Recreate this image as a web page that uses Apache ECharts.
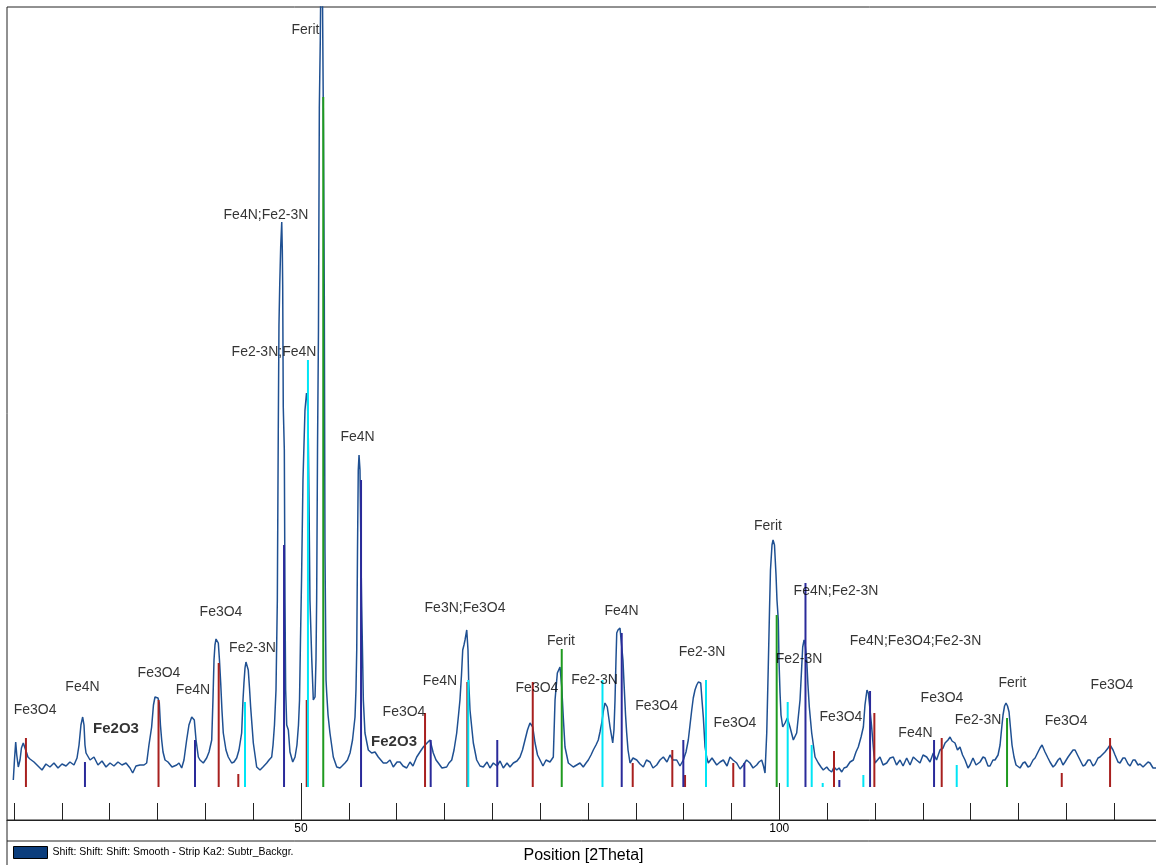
<!DOCTYPE html>
<html>
<head>
<meta charset="utf-8">
<script src="https://cdn.jsdelivr.net/npm/echarts@6/dist/echarts.min.js"></script>
<style>
html,body{margin:0;padding:0;background:#fff;}
#chart{width:1156px;height:865px;}
</style>
</head>
<body>
<div id="chart"></div>
<script>
// Measured pattern: [2Theta (deg), intensity (counts, background subtracted)]
const pattern = [
[19.93,7],[20.05,27],[20.18,45],[20.29,32],[20.45,20],[20.63,27],[20.78,39],[20.97,44],[21.15,45],[21.33,34],[21.46,30],[21.67,28],
[22.09,25],[22.51,21],[22.93,17],[23.34,23],[23.76,20],[24.18,24],[24.60,19],[25.02,23],[25.44,21],[25.85,25],[26.27,22],[26.59,29],
[26.80,42],[27.00,62],[27.18,70],[27.32,62],[27.42,42],[27.53,34],[27.95,27],[28.36,30],[28.78,22],[29.20,26],[29.62,20],[30.04,24],
[30.45,21],[30.87,25],[31.29,22],[31.71,24],[32.13,19],[32.41,14],[32.75,21],[33.17,22],[33.59,22],[33.87,24],[34.11,42],[34.39,60],
[34.58,82],[34.74,90],[34.92,92],[35.05,89],[35.19,84],[35.31,62],[35.44,47],[35.58,35],[35.79,27],[36.10,25],[36.52,20],[37.01,22],
[37.25,24],[37.53,19],[37.77,27],[38.05,47],[38.29,62],[38.58,70],[38.85,67],[39.03,47],[39.27,30],[39.44,27],[39.79,24],[40.14,29],
[40.39,35],[40.67,47],[40.80,87],[40.91,127],[41.01,142],[41.12,148],[41.25,146],[41.36,144],[41.48,127],[41.61,104],[41.74,77],[41.88,54],
[42.16,37],[42.40,30],[42.76,24],[43.00,25],[43.28,29],[43.52,37],[43.80,54],[43.94,87],[44.04,104],[44.15,119],[44.25,125],[44.36,123],
[44.49,117],[44.62,99],[44.74,80],[44.88,62],[45.02,44],[45.37,20],[45.72,17],[46.03,20],[46.42,24],[46.66,27],[46.94,30],[47.08,42],
[47.23,62],[47.39,97],[47.53,187],[47.63,360],[47.70,462],[47.78,502],[47.88,540],[47.99,565],[48.05,537],[48.09,502],[48.15,380],[48.26,337],
[48.33,187],[48.40,97],[48.51,62],[48.68,57],[48.85,35],[49.14,25],[49.38,30],[49.58,42],[49.74,62],[49.85,87],[49.95,147],[50.06,207],
[50.21,307],[50.42,377],[50.58,394],[50.68,387],[50.77,347],[50.86,267],[50.94,187],[51.12,130],[51.29,87],[51.47,90],[51.57,127],[51.64,187],
[51.73,337],[51.83,457],[51.92,679],[52.02,747],[52.17,907],[52.27,763],[52.35,657],[52.44,487],[52.51,237],[52.62,107],[52.69,94],[52.83,72],
[53.03,54],[53.38,30],[53.74,20],[54.08,19],[54.29,21],[54.60,24],[54.86,27],[55.13,34],[55.39,47],[55.65,70],[55.75,97],[55.83,137],
[55.91,237],[55.99,317],[56.07,332],[56.17,317],[56.28,227],[56.35,180],[56.43,137],[56.52,87],[56.69,54],[57.04,37],[57.39,34],[57.74,35],
[58.08,30],[58.61,24],[58.96,24],[59.31,27],[59.65,20],[60.04,25],[60.35,25],[60.67,21],[61.05,19],[61.40,25],[61.71,21],[62.10,30],
[62.44,35],[62.79,40],[63.18,44],[63.49,47],[63.67,45],[63.83,34],[64.12,27],[64.36,24],[64.74,19],[65.23,20],[65.47,24],[65.76,27],
[66.00,37],[66.28,54],[66.47,72],[66.62,87],[66.78,112],[66.91,137],[67.04,142],[67.15,147],[67.33,157],[67.39,159],[67.46,137],[67.53,107],
[67.67,77],[67.88,57],[68.02,44],[68.37,27],[68.72,21],[69.06,20],[69.45,25],[69.76,19],[70.11,24],[70.49,21],[70.81,26],[71.15,19],
[71.54,24],[71.85,20],[72.20,24],[72.58,26],[72.90,30],[73.16,37],[73.42,47],[73.68,57],[73.94,64],[74.23,60],[74.47,44],[74.73,32],
[74.99,27],[75.30,21],[75.62,27],[76.03,25],[76.38,30],[76.56,87],[76.80,114],[77.08,120],[77.26,100],[77.42,70],[77.60,40],[77.95,24],
[78.47,20],[78.82,22],[79.17,24],[79.51,20],[79.80,24],[80.04,27],[80.32,32],[80.56,37],[80.84,42],[81.08,47],[81.26,55],[81.44,64],
[81.63,77],[81.78,84],[82.02,80],[82.31,60],[82.59,44],[82.72,57],[82.83,87],[82.93,127],[83.01,154],[83.14,157],[83.35,159],[83.53,157],
[83.66,127],[83.77,104],[83.93,72],[84.05,54],[84.19,37],[84.40,24],[84.71,29],[85.10,27],[85.44,23],[85.79,20],[86.12,27],[86.49,25],
[86.80,19],[87.19,22],[87.53,27],[87.88,30],[88.26,25],[88.58,32],[88.89,27],[89.28,27],[89.62,21],[89.97,27],[90.25,35],[90.49,47],
[90.67,62],[90.85,77],[91.01,89],[91.19,97],[91.37,102],[91.54,105],[91.79,104],[91.92,87],[92.06,70],[92.24,40],[92.41,30],[92.58,24],
[92.97,29],[93.46,22],[93.81,25],[94.15,27],[94.54,21],[94.85,30],[95.16,27],[95.55,24],[95.90,18],[96.24,22],[96.58,27],[96.94,24],
[97.26,19],[97.64,22],[97.88,25],[98.16,27],[98.35,21],[98.51,14],[98.69,54],[98.85,120],[98.98,177],[99.08,217],[99.24,242],[99.35,247],
[99.50,242],[99.66,212],[99.76,187],[99.90,167],[99.97,127],[100.08,94],[100.18,72],[100.36,60],[100.60,64],[100.84,69],[101.12,60],[101.47,47],
[101.82,54],[102.01,72],[102.17,87],[102.33,117],[102.45,140],[102.59,147],[102.69,144],[102.87,127],[103.00,102],[103.14,80],[103.39,54],[103.74,30],
[104.08,24],[104.36,20],[104.60,17],[104.96,20],[105.20,17],[105.48,15],[105.72,20],[106.01,17],[106.25,19],[106.53,15],[106.77,19],[107.05,20],
[107.40,25],[107.74,27],[108.02,35],[108.26,40],[108.55,50],[108.79,60],[108.96,82],[109.07,90],[109.17,97],[109.31,94],[109.49,77],[109.64,62],
[109.77,47],[109.90,32],[110.01,24],[110.27,27],[110.53,30],[110.85,22],[111.23,24],[111.58,29],[111.92,30],[112.26,22],[112.62,27],[112.94,21],
[113.32,29],[113.67,22],[114.01,30],[114.35,27],[114.71,24],[115.03,32],[115.41,30],[115.76,25],[116.10,34],[116.44,27],[116.80,37],[117.12,39],
[117.33,44],[117.64,47],[117.85,50],[118.06,46],[118.37,44],[118.63,37],[118.89,40],[119.16,32],[119.42,27],[119.73,19],[119.94,22],[120.25,29],
[120.57,22],[120.99,25],[121.30,30],[121.51,29],[121.82,21],[122.03,21],[122.34,27],[122.55,27],[122.87,32],[123.08,42],[123.23,57],[123.39,72],
[123.55,81],[123.70,84],[123.86,81],[124.02,75],[124.17,59],[124.33,42],[124.54,30],[124.75,22],[125.17,19],[125.48,24],[125.69,25],[126.00,20],
[126.21,21],[126.53,27],[126.74,29],[127.05,35],[127.26,39],[127.47,42],[127.78,35],[128.09,29],[128.30,25],[128.62,20],[128.83,22],[129.14,27],
[129.35,29],[129.66,22],[129.87,25],[130.19,30],[130.39,32],[130.71,37],[130.92,37],[131.23,31],[131.44,27],[131.75,21],[131.96,22],[132.28,27],
[132.49,27],[132.80,21],[133.01,23],[133.32,29],[133.53,30],[133.84,33],[134.05,35],[134.37,39],[134.58,42],[134.89,37],[135.10,32],[135.41,25],
[135.62,24],[135.93,29],[136.14,29],[136.46,23],[136.67,21],[136.98,27],[137.19,27],[137.50,22],[137.71,23],[138.03,20],[138.23,19],[138.55,25],
[138.76,24],[139.07,19],[139.39,19]
];

// Reference patterns (stick positions in 2Theta, relative stick heights)
const fe3o4Pos = [21.25,35.11,41.40,43.45,50.60,62.97,67.39,74.23,84.68,88.82,90.15,95.19,105.72,109.94,116.98,129.53,134.58];
const fe3o4Int = [49,87,124,13,87,74,105,105,24,37,12,24,36,74,49,14,49];
const fe4nPos  = [27.42,38.92,48.23,56.28,63.56,70.52,83.53,89.97,96.35,102.74,106.28,109.49,116.18];
const fe4nInt  = [25,47,242,307,47,47,154,47,24,204,7,96,47];
const fe23nPos = [44.15,50.73,67.49,81.52,92.34,100.88,103.39,104.54,108.79,118.55];
const fe23nInt = [85,427,107,107,107,85,42,4,12,22];
const feritPos = [52.33,77.26,99.73,123.81];
const feritInt = [690,138,172,69];

// Peak annotations: text, 2Theta, height, bold
const labelText = ["Fe3O4","Fe4N","Fe2O3","Fe3O4","Fe4N","Fe3O4","Fe2-3N","Fe4N;Fe2-3N","Fe2-3N;Fe4N","Ferit","Fe4N",
  "Fe3O4","Fe2O3","Fe4N","Fe3N;Fe3O4","Fe3O4","Ferit","Fe2-3N","Fe4N","Fe3O4","Fe2-3N","Fe3O4","Ferit","Fe2-3N",
  "Fe4N;Fe2-3N","Fe4N;Fe3O4;Fe2-3N","Fe3O4","Fe4N","Fe3O4","Fe2-3N","Ferit","Fe3O4","Fe3O4"];
const labelX = [22.20,27.16,30.66,35.16,38.71,41.64,44.93,46.34,47.18,50.47,55.91,
  60.77,59.73,64.53,67.15,74.67,77.18,80.69,83.51,87.17,91.92,95.37,98.82,102.06,
  105.93,114.24,106.45,114.24,117.01,120.78,124.38,129.98,134.78];
const labelY = [77,100,58,114,97,175,139,572,435,757,350,
  75,45,106,179,99,146,107,176,81,135,64,261,128,
  196,146,70,54,89,67,104,66,102];
const labelBold = [0,0,1,0,0,0,0,0,0,0,0, 0,1,0,0,0,0,0,0,0,0,0,0,0, 0,0,0,0,0,0,0,0,0];

const minorTicks = [20,25,30,35,40,45,50,55,60,65,70,75,80,85,90,95,100,105,110,115,120,125,130,135];
const majorTicks = [50,100];

const X_MIN = 19.27, X_MAX = 139.80, Y_MIN = -33, Y_MAX = 780;
const seriesName = 'Shift: Shift: Shift: Smooth - Strip Ka2: Subtr_Backgr.';

function stickSeries(name, pos, ints, color) {
  return {
    type: 'custom', name: name, silent: true, z: 4, clip: true,
    data: pos.map((p, i) => [p, ints[i]]),
    renderItem: function (params, api) {
      const a = api.coord([api.value(0), 0]);
      const b = api.coord([api.value(0), api.value(1)]);
      return { type: 'line', shape: { x1: a[0], y1: a[1], x2: b[0], y2: b[1] },
               style: { stroke: color, lineWidth: 2 } };
    }
  };
}

const gridBox = { left: 7, top: 7, width: 1153, height: 813, outerBoundsMode: 'none', containLabel: false };

const chart = echarts.init(document.getElementById('chart'), null, { renderer: 'canvas' });
const fontFam = '"Liberation Sans", Arial, sans-serif';
chart.setOption({
  animation: false,
  backgroundColor: '#fff',
  textStyle: { fontFamily: fontFam },
  grid: [
    Object.assign({ show: true, borderColor: '#222', borderWidth: 1 }, gridBox),
    Object.assign({ show: false }, gridBox)
  ],
  legend: {
    left: 13, top: 846, padding: 0, itemWidth: 34, itemHeight: 12, itemGap: 10,
    textStyle: { fontSize: 10.5, color: '#000', fontFamily: fontFam },
    data: [{ name: seriesName, icon: 'rect', itemStyle: { color: '#0b3d7c', borderColor: '#000', borderWidth: 1 } }]
  },
  xAxis: [
    {
      gridIndex: 0, type: 'value', min: X_MIN, max: X_MAX, position: 'bottom',
      name: 'Position [2Theta]', nameLocation: 'middle', nameGap: 28,
      nameTextStyle: { fontSize: 16, color: '#000', fontFamily: fontFam },
      axisLine: { show: true, onZero: false, lineStyle: { color: '#222', width: 1 } },
      axisTick: { show: true, inside: true, length: 17, customValues: minorTicks, lineStyle: { color: '#222', width: 1 } },
      axisLabel: { show: true, customValues: majorTicks, margin: 3, fontSize: 12, color: '#000', fontFamily: fontFam },
      splitLine: { show: false }
    },
    {
      gridIndex: 1, type: 'value', min: X_MIN, max: X_MAX, position: 'bottom',
      axisLine: { show: false, onZero: false },
      axisTick: { show: true, inside: true, length: 37, customValues: majorTicks, lineStyle: { color: '#222', width: 1 } },
      axisLabel: { show: false },
      splitLine: { show: false }
    }
  ],
  yAxis: [
    { gridIndex: 0, type: 'value', min: Y_MIN, max: Y_MAX, show: false, splitLine: { show: false } },
    { gridIndex: 1, type: 'value', min: Y_MIN, max: Y_MAX, show: false, splitLine: { show: false } }
  ],
  graphic: [
    { type: 'line', shape: { x1: 7, y1: 820, x2: 7, y2: 865 }, style: { stroke: '#222', lineWidth: 1 } },
    { type: 'line', shape: { x1: 7, y1: 841, x2: 1156, y2: 841 }, style: { stroke: '#222', lineWidth: 1 } }
  ],
  series: [
    {
      name: seriesName, type: 'line', data: pattern, showSymbol: false, symbol: 'none',
      clip: true, z: 3,
      lineStyle: { color: '#1f5092', width: 1.5 },
      itemStyle: { color: '#0b3d7c' }
    },
    stickSeries('Fe3O4', fe3o4Pos, fe3o4Int, '#a8201f'),
    stickSeries('Fe4N', fe4nPos, fe4nInt, '#2a2a9a'),
    stickSeries('Fe2-3N', fe23nPos, fe23nInt, '#00e5f5'),
    stickSeries('Ferit', feritPos, feritInt, '#1f9a1f'),
    {
      name: 'labels', type: 'scatter', symbol: 'rect', symbolSize: 1, silent: true, z: 6,
      itemStyle: { color: 'rgba(0,0,0,0)' },
      label: { show: true, position: 'inside', formatter: '{b}', color: '#000', fontSize: 14, fontFamily: fontFam },
      data: labelText.map((t, i) => ({
        name: t, value: [labelX[i], labelY[i]],
        label: labelBold[i] ? { fontWeight: 'bold', fontSize: 15 } : {}
      }))
    }
  ]
});
</script>
</body>
</html>
